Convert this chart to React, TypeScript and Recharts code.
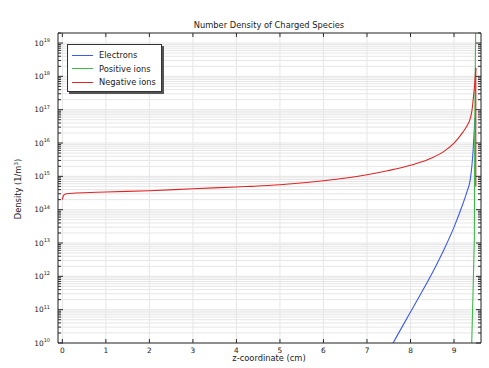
import { CartesianGrid, Line, LineChart, XAxis, YAxis } from "recharts";

const FONT = "'DejaVu Sans', sans-serif";
const AXIS = "#2b2b2b";

// x: z-coordinate (cm), y: density (1/m^3)
const zTicks = [0, 1, 2, 3, 4, 5, 6, 7, 8, 9];
const decades = [10, 11, 12, 13, 14, 15, 16, 17, 18, 19];
const minorSteps = [2, 3, 4, 5, 6, 7, 8, 9];
const zDomain = [-0.1, 9.62];
const nDomain = [1e10, 2e19];

const electronsZ = [7.55, 7.6, 8.0, 8.25, 8.5, 8.76, 9.0, 9.2, 9.3, 9.37, 9.41, 9.44, 9.46, 9.48];
const electronsN = [7.6e9, 1e10, 8.5e10, 3.2e11, 1.26e12, 6.0e12, 3.0e13, 1.45e14, 3.55e14, 7.6e14, 2.0e15, 6.3e15, 1.8e16, 5.6e16];

const positiveZ = [9.39, 9.407, 9.437, 9.467, 9.476, 9.49, 9.5];
const positiveN = [3e9, 1e10, 3.2e11, 1.25e13, 2.5e16, 3e18, 4e19];

const negativeZ = [0, 0.01, 0.03, 0.06, 0.1, 0.3, 1, 2, 3, 4, 5, 6, 7, 7.5, 8, 8.5, 8.8, 9, 9.1, 9.2, 9.3, 9.36, 9.4, 9.42, 9.44, 9.46, 9.48, 9.5];
const negativeN = [2.0e14, 2.3e14, 2.7e14, 2.9e14, 3.0e14, 3.15e14, 3.4e14, 3.7e14, 4.25e14, 4.8e14, 5.6e14, 7.4e14, 1.12e15, 1.5e15, 2.15e15, 3.6e15, 6.0e15, 1.0e16, 1.41e16, 2.09e16, 3.3e16, 4.8e16, 7.6e16, 1.12e17, 2.0e17, 3.55e17, 7.1e17, 1.8e18];

// drop of the negative ions at the wall
const negativeWallZ = [9.5, 9.5];
const negativeWallN = [1.8e18, 5e14];

const toPoints = (zs: number[], ns: number[]) => zs.map((z, i) => ({ z, n: ns[i] }));

const electrons = toPoints(electronsZ, electronsN);
const positive = toPoints(positiveZ, positiveN);
const negative = toPoints(negativeZ, negativeN);
const negativeWall = toPoints(negativeWallZ, negativeWallN);

const legendItems = [
  { name: "Electrons", color: "#3b5bef" },
  { name: "Positive ions", color: "#3cba46" },
  { name: "Negative ions", color: "#e02424" },
];

const nTicks: number[] = [];
for (const d of decades) {
  nTicks.push(10 ** d);
  for (const m of minorSteps) {
    const v = m * 10 ** d;
    if (v <= nDomain[1]) nTicks.push(v);
  }
}

function isDecade(v: number) {
  const l = Math.log10(v);
  return Math.abs(l - Math.round(l)) < 1e-9;
}

function LeftTick({ x, y, payload }: any) {
  const v = payload.value as number;
  const major = isDecade(v);
  return (
    <g>
      <line x1={x} x2={x + (major ? 5 : 3)} y1={y} y2={y} stroke={AXIS} strokeWidth={1} />
      {major ? (
        <text x={x - 8} y={y + 2.5} textAnchor="end" fontSize={7.4} fill="#222" fontFamily={FONT}>
          10
          <tspan dy={-3.5} fontSize={5}>
            {Math.round(Math.log10(v))}
          </tspan>
        </text>
      ) : null}
    </g>
  );
}

function RightTick({ x, y, payload }: any) {
  const major = isDecade(payload.value as number);
  return <line x1={x - (major ? 5 : 3)} x2={x} y1={y} y2={y} stroke={AXIS} strokeWidth={1} />;
}

function BottomTick({ x, y, payload }: any) {
  return (
    <g>
      <line x1={x} x2={x} y1={y} y2={y - 4} stroke={AXIS} strokeWidth={1} />
      <text x={x} y={y + 9.5} textAnchor="middle" fontSize={7.4} fill="#222" fontFamily={FONT}>
        {payload.value}
      </text>
    </g>
  );
}

function TopTick({ x, y }: any) {
  return <line x1={x} x2={x} y1={y} y2={y + 4} stroke={AXIS} strokeWidth={1} />;
}

export default function App() {
  return (
    <div style={{ position: "absolute", left: 0, top: 0, width: 489, height: 368, background: "#fff", fontFamily: FONT }}>
      <LineChart width={489} height={368} margin={{ top: 29, right: 4, bottom: 5, left: 18 }}>
        <CartesianGrid stroke="#e6e6e6" strokeWidth={1} />
        <XAxis
          type="number"
          dataKey="z"
          domain={zDomain}
          ticks={zTicks}
          interval={0}
          allowDataOverflow
          height={20}
          tickSize={0}
          tickMargin={0}
          tickLine={false}
          axisLine={{ stroke: AXIS }}
          tick={<BottomTick />}
        />
        <XAxis
          xAxisId="top"
          orientation="top"
          type="number"
          dataKey="z"
          domain={zDomain}
          ticks={zTicks}
          interval={0}
          allowDataOverflow
          height={4}
          tickSize={0}
          tickMargin={0}
          tickLine={false}
          axisLine={{ stroke: AXIS }}
          tick={<TopTick />}
        />
        <YAxis
          scale="log"
          type="number"
          domain={nDomain}
          ticks={nTicks}
          interval={0}
          allowDataOverflow
          width={40}
          tickSize={0}
          tickMargin={0}
          tickLine={false}
          axisLine={{ stroke: AXIS }}
          tick={<LeftTick />}
        />
        <YAxis
          yAxisId="right"
          orientation="right"
          scale="log"
          type="number"
          domain={nDomain}
          ticks={nTicks}
          interval={0}
          allowDataOverflow
          width={4}
          tickSize={0}
          tickMargin={0}
          tickLine={false}
          axisLine={{ stroke: AXIS }}
          tick={<RightTick />}
        />
        <Line data={electrons} dataKey="n" type="monotone" stroke={legendItems[0].color} strokeWidth={1.1} dot={false} isAnimationActive={false} />
        <Line data={positive} dataKey="n" type="linear" stroke={legendItems[1].color} strokeWidth={1.1} dot={false} isAnimationActive={false} />
        <Line data={negative} dataKey="n" type="monotone" stroke={legendItems[2].color} strokeWidth={1.1} dot={false} isAnimationActive={false} />
        <Line data={negativeWall} dataKey="n" type="linear" stroke={legendItems[2].color} strokeWidth={1.1} dot={false} isAnimationActive={false} />
      </LineChart>

      <div style={{ position: "absolute", left: 0, width: 538, top: 20, textAlign: "center", fontSize: 8.3, color: "#222" }}>
        Number Density of Charged Species
      </div>
      <div style={{ position: "absolute", left: 0, width: 538, top: 353, textAlign: "center", fontSize: 8.3, color: "#222", lineHeight: "10px" }}>
        z-coordinate (cm)
      </div>
      <div
        style={{
          position: "absolute",
          left: 18,
          top: 189,
          transform: "translate(-50%, -50%) rotate(-90deg)",
          whiteSpace: "nowrap",
          fontSize: 8.3,
          color: "#222",
        }}
      >
        Density (1/m<sup style={{ fontSize: 5.5 }}>3</sup>)
      </div>

      <div
        style={{
          position: "absolute",
          left: 67,
          top: 44,
          width: 93,
          height: 46,
          background: "#fff",
          border: "1px solid #333",
          boxShadow: "2px 2px 0 #555",
          fontSize: 8.3,
          color: "#222",
        }}
      >
        {legendItems.map((item, i) => (
          <div key={item.name} style={{ position: "absolute", left: 4, top: 5 + i * 13.5, height: 10, display: "flex", alignItems: "center" }}>
            <div style={{ width: 21, height: 1, background: item.color }} />
            <span style={{ marginLeft: 6, lineHeight: "10px" }}>{item.name}</span>
          </div>
        ))}
      </div>
    </div>
  );
}
